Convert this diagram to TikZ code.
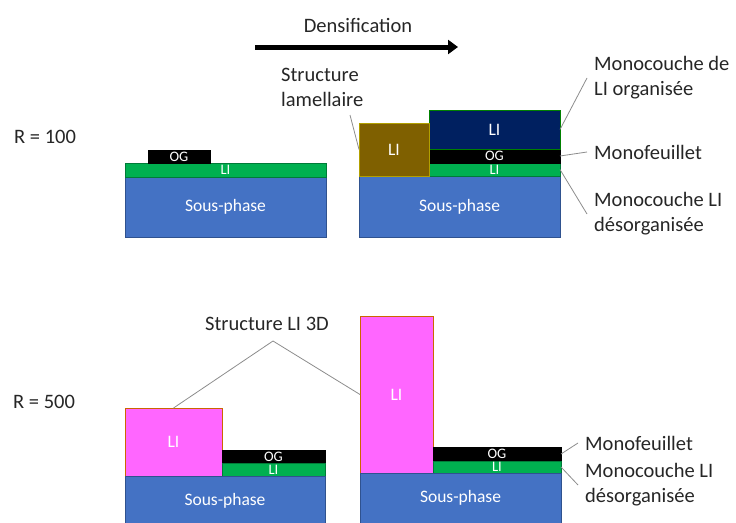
\documentclass[tikz,border=0pt]{standalone}
\usepackage{fontspec}
\setmainfont{Carlito}
\usetikzlibrary{positioning, arrows.meta}
\definecolor{sousphase}{HTML}{4472C4}
\definecolor{sousbord}{HTML}{2F528F}
\definecolor{livert}{HTML}{00B050}
\definecolor{limarine}{HTML}{002060}
\definecolor{librun}{HTML}{7F6000}
\definecolor{lirose}{HTML}{FF66FF}

\begin{document}
\begin{tikzpicture}[x=1pt, y=-1pt,
    couche/.style={draw, anchor=north west, inner sep=0pt, outer sep=0pt, line width=0.6pt,
      text=white, font=\fontsize{17.5}{20}\selectfont},
    mince/.style={couche, font=\fontsize{14.5}{15}\selectfont},
    sous/.style={couche, fill=sousphase, draw=sousbord},
    vert/.style={mince, fill=livert, draw=livert!70!black},
    og/.style={mince, fill=black, draw=black},
    legende/.style={anchor=west, align=left, inner sep=2pt, text=black!85,
      font=\fontsize{20.5}{25}\selectfont},
    trait/.style={draw=black!45, line width=0.8pt}]
\useasboundingbox (0,0) rectangle (736,522);

% R = 100
\node[legende] (r1) at (12,137) {R = 100};
\node[sous, minimum width=201pt, minimum height=60pt] (sp1) at (125,177) {Sous-phase};
\node[vert, minimum width=201pt, minimum height=14pt] (li1) at (125,163) {LI};
\node[og, minimum width=62pt, minimum height=13pt] (og1) at (148,150) {OG};

\node[sous, minimum width=201pt, minimum height=61pt] (sp2) at (359,176) {Sous-phase};
\node[vert, minimum width=131pt, minimum height=13pt] (li2) at (429,163) {LI};
\node[og, minimum width=131pt, minimum height=14pt] (og2) at (429,149) {OG};
\node[couche, fill=limarine, draw=green!50!black, minimum width=131pt, minimum height=39pt] (lio) at (429,110) {LI};
\node[couche, fill=librun, draw=librun!60!yellow, minimum width=70pt, minimum height=53pt] (lam) at (359,123) {LI};

% densification
\coordinate (dep) at (255,47);
\coordinate (arr) at (458,47);
\draw[line width=5pt, -{Triangle[length=10pt, width=14pt]}] (dep) -- (arr);
\node[text=black!85, font=\fontsize{20.5}{25}\selectfont] (dens) at (358,25) {Densification};

% legendes du haut
\node[legende] (slam) at (279,87) {Structure\\lamellaire};
\coordinate (pslam) at (350,115);
\draw[trait] (pslam) -- (lam.west);
\node[legende] (morg) at (592,78) {Monocouche de\\LI organisée};
\draw[trait] (lio.east) -- ([xshift=-5pt]morg.west);
\node[legende] (mf1) at (592,152) {Monofeuillet};
\draw[trait] (og2.east) -- ([xshift=-5pt]mf1.west);
\node[legende] (mdes1) at (592,214) {Monocouche LI\\désorganisée};
\draw[trait] (li2.east) -- ([xshift=-5pt]mdes1.west);

% R = 500
\node[legende] (r2) at (11,402) {R = 500};
\node[couche, fill=lirose, draw=orange!80!black, minimum width=97pt, minimum height=68pt] (rose1) at (125,408) {LI};
\node[og, minimum width=103pt, minimum height=13pt] (og3) at (222,450) {OG};
\node[vert, minimum width=103pt, minimum height=13pt] (li3) at (222,463) {LI};
\node[sous, minimum width=200pt, minimum height=50pt] (sp3) at (125,476) {Sous-phase};

\node[couche, fill=lirose, draw=orange!80!black, minimum width=73pt, minimum height=157pt] (rose2) at (360,316) {LI};
\node[og, minimum width=128pt, minimum height=14pt] (og4) at (433,447) {OG};
\node[vert, minimum width=128pt, minimum height=12pt] (li4) at (433,461) {LI};
\node[sous, minimum width=201pt, minimum height=50pt] (sp4) at (360,473) {Sous-phase};

% legendes du bas
\node[text=black!85, font=\fontsize{20.5}{25}\selectfont] (s3d) at (267,324) {Structure LI 3D};
\coordinate (sommet) at (273,341);
\draw[trait] (rose1.north) -- (sommet) -- (rose2.west);
\node[legende] (mf2) at (583,443) {Monofeuillet};
\draw[trait] (og4.east) -- ([xshift=-5pt]mf2.west);
\node[legende] (mdes2) at (583,485) {Monocouche LI\\désorganisée};
\draw[trait] (li4.east) -- ([xshift=-5pt]mdes2.west);
\end{tikzpicture}
\end{document}
